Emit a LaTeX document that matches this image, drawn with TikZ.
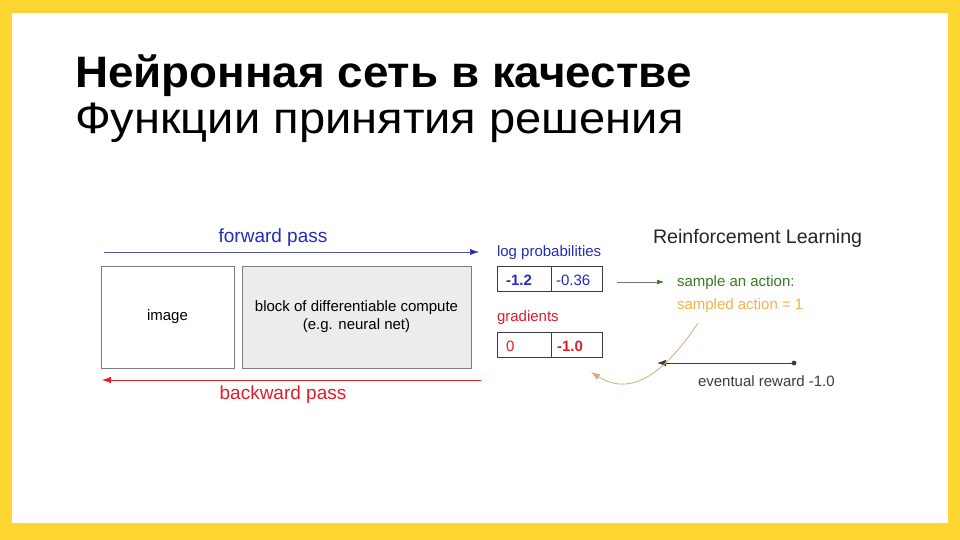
\documentclass[tikz,border=0pt]{standalone}
\usepackage{fontspec}
\setmainfont{Liberation Sans}
\newfontfamily\titleboldfont{Liberation Sans}[FakeStretch=1.04]
\newfontfamily\titleregfont{Liberation Sans}[FakeStretch=1.07]
\usetikzlibrary{arrows.meta}
\definecolor{yel}{RGB}{253,214,50}
\definecolor{fwdblue}{RGB}{35,45,190}
\definecolor{bwdred}{RGB}{222,30,40}
\definecolor{grn}{RGB}{60,120,35}
\definecolor{org}{RGB}{242,178,72}
\definecolor{curve}{RGB}{215,170,110}
\definecolor{boxgray}{RGB}{125,125,125}
\definecolor{fillgray}{RGB}{236,236,236}
\definecolor{dark}{RGB}{60,60,60}
\definecolor{fwdline}{RGB}{80,90,140}
\begin{document}
\begin{tikzpicture}[x=1pt,y=-1pt,
  every node/.style={inner sep=0pt,outer sep=0pt},
  box/.style={draw=boxgray,line width=0.9pt,minimum height=102pt,font=\fontsize{15}{18}\selectfont,align=center},
  cell/.style={draw=dark,line width=0.8pt,minimum height=25.5pt,anchor=north west},
  lbl/.style={font=\fontsize{15}{18}\selectfont,anchor=west},
  big/.style={font=\fontsize{19}{22}\selectfont},
  tip/.style={-{Latex[length=9pt,width=6.5pt]}}]
\useasboundingbox (0,0) rectangle (960,540);
\fill[yel] (0,0) rectangle (960,540);
\fill[white] (12,13) rectangle (948,523);
% title
\node[anchor=base west,font=\titleboldfont\fontsize{44}{48}\selectfont\bfseries] (t1) at (75,88) {Нейронная сеть в качестве};
\node[anchor=base west,font=\titleregfont\fontsize{44}{48}\selectfont] (t2) at (75,134) {Функции принятия решения};
% boxes
\node[box,minimum width=133pt] (img) at (167.5,317) {image};
\node[box,minimum width=229pt,fill=fillgray] (blk) at (356.5,317) {block of differentiable compute\\(e.g. neural net)};
% forward / backward
\coordinate (fa) at (104,252);
\coordinate (fb) at (479,252);
\draw[fwdline,line width=0.6pt,-{Latex[length=9pt,width=6pt,color=fwdblue]}] (fa) -- (fb);
\node[big,text=fwdblue] (fp) at (273,238) {forward pass};
\coordinate (ba) at (481,380);
\coordinate (bb) at (102,380);
\draw[bwdred,line width=0.8pt,tip] (ba) -- (bb);
\node[big,text=bwdred] (bp) at (283,395) {backward pass};
% tables
\node[lbl,text=fwdblue] (lp) at (497,253) {log probabilities};
\node[cell,minimum width=54pt] (c11) at (497,266) {};
\node[cell,minimum width=51pt] (c12) at (551,266) {};
\node[lbl,text=fwdblue] (v11) at (506,280) {\textbf{-1.2}};
\node[lbl,text=fwdblue] (v12) at (556,280) {-0.36};
\node[lbl,text=bwdred] (gr) at (497,318) {gradients};
\node[cell,minimum width=54pt] (c21) at (497,332) {};
\node[cell,minimum width=51pt] (c22) at (551,332) {};
\node[lbl,text=bwdred] (v21) at (506,346) {0};
\node[lbl,text=bwdred] (v22) at (557,346) {\textbf{-1.0}};
% reinforcement learning
\node[anchor=west,font=\fontsize{19.6}{22}\selectfont,text=black!85] (rl) at (653,238) {Reinforcement Learning};
\node[lbl,text=grn] (sa) at (677,283) {sample an action:};
\node[lbl,text=org] (sd) at (677,306) {sampled action = 1};
\node[lbl,text=dark] (er) at (698,381) {eventual reward -1.0};
\coordinate (sa1) at (617,282);
\coordinate (sa2) at (664,282);
\draw[black!55,line width=0.6pt,-{Latex[length=7pt,width=5pt,color=grn]}] (sa1) -- (sa2);
\coordinate (rd) at (794,363);
\coordinate (rt) at (657,363);
\fill[dark] (rd) circle (2.4pt);
\draw[dark,line width=0.8pt,tip] (rd) -- (rt);
\coordinate (cs) at (698,323);
\coordinate (ce) at (591,372);
\draw[curve,line width=0.8pt,tip] (cs) .. controls (670,365) and (635,400) .. (ce);
\end{tikzpicture}
\end{document}
